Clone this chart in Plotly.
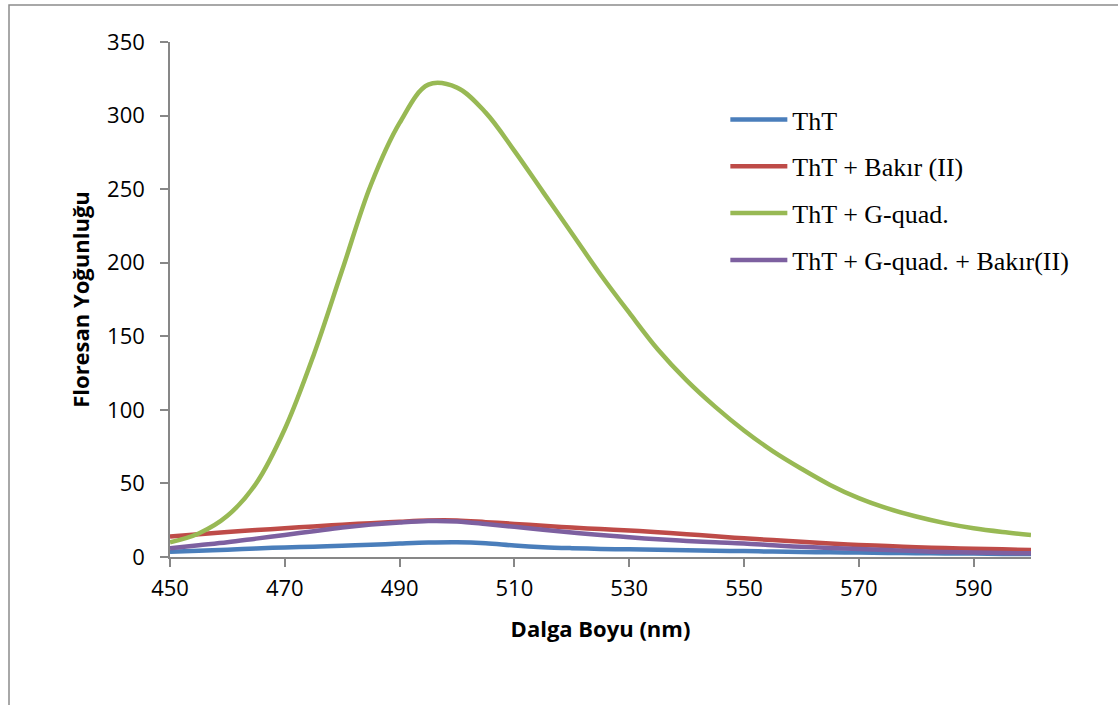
import plotly.graph_objects as go

wavelength = [450, 455, 460, 465, 470, 475, 480, 485, 490, 495, 500, 505, 510, 515,
              520, 525, 530, 535, 540, 545, 550, 555, 560, 565, 570, 575, 580, 585,
              590, 595, 600]

tht = [3.5, 4.2, 5.0, 5.8, 6.5, 7.0, 7.6, 8.3, 9.1, 9.8, 10.0, 9.3, 7.8, 6.7,
       6.0, 5.5, 5.2, 4.9, 4.6, 4.3, 4.0, 3.7, 3.4, 3.2, 3.0, 2.8, 2.6, 2.4,
       2.3, 2.1, 2.0]

tht_cu = [14.0, 15.5, 17.0, 18.3, 19.5, 20.8, 22.0, 23.0, 24.0, 24.8, 24.8, 23.7, 22.5, 21.2,
          20.0, 19.0, 18.0, 16.8, 15.5, 14.1, 12.7, 11.5, 10.3, 9.2, 8.2, 7.4, 6.7, 6.1,
          5.6, 5.2, 4.8]

tht_gq = [10, 16, 28, 50, 87, 137, 195, 253, 295, 321, 319, 302, 276, 248,
          220, 192, 166, 141, 120, 102, 86, 72, 60, 49, 40, 33, 27.5, 23,
          19.5, 17, 15]

tht_gq_cu = [6.0, 8.0, 10.0, 12.5, 15.0, 17.5, 20.0, 22.0, 23.5, 24.5, 24.2, 22.5, 20.5, 18.5,
             16.6, 15.0, 13.4, 12.0, 10.9, 10.0, 9.2, 8.0, 6.9, 6.1, 5.4, 4.7, 4.0, 3.4,
             3.0, 2.7, 2.5]

names = ["ThT", "ThT + Bakır (II)", "ThT + G-quad.", "ThT + G-quad. + Bakır(II)"]
series = [tht, tht_cu, tht_gq, tht_gq_cu]
colors = ["#4a7ebb", "#be4b48", "#98b954", "#7d60a0"]

x_ticks = [450, 470, 490, 510, 530, 550, 570, 590]
y_ticks = [0, 50, 100, 150, 200, 250, 300, 350]

fig = go.Figure()
for i, (nm, ys, c) in enumerate(zip(names, series, colors)):
    fig.add_trace(go.Scatter(
        x=wavelength, y=ys, name=nm, mode="lines",
        line=dict(color=c, width=4.5, shape="spline", smoothing=1.0),
        legendgroup=f"g{i}",
    ))

sans = "Open Sans, Liberation Sans, sans-serif"
axis_font = dict(family=sans, size=22, color="#000000")
title_font = dict(family=sans, size=22, color="#000000")

fig.update_layout(
    width=1118, height=705,
    margin=dict(l=170, r=87, t=42, b=148),
    paper_bgcolor="white", plot_bgcolor="white",
    showlegend=True,
    legend=dict(
        x=0.645, y=0.895, xanchor="left", yanchor="top",
        font=dict(family="Liberation Serif, Times New Roman, serif", size=26, color="#000000"),
        tracegroupgap=10, itemwidth=57, bgcolor="rgba(0,0,0,0)",
    ),
    xaxis=dict(
        range=[450, 600], tickvals=x_ticks, ticktext=[str(v) for v in x_ticks],
        showgrid=False, zeroline=False, showline=True, linecolor="#878787", linewidth=1.5,
        ticks="outside", ticklen=8, tickcolor="#878787", tickwidth=1.5,
        tickfont=axis_font, ticklabelstandoff=3,
        title=dict(text="<b>Dalga Boyu (nm)</b>", standoff=20, font=title_font),
    ),
    yaxis=dict(
        range=[0, 350], tickvals=y_ticks, ticktext=[str(v) for v in y_ticks],
        showgrid=False, zeroline=False, showline=True, linecolor="#878787", linewidth=1.5,
        ticks="outside", ticklen=8, tickcolor="#878787", tickwidth=1.5,
        tickfont=axis_font, ticklabelstandoff=11,
        title=dict(text="<b>Floresan Yoğunluğu</b>", standoff=11, font=title_font),
    ),
    shapes=[dict(type="rect", xref="paper", yref="paper",
                 x0=(9 - 170) / 861, x1=(1130 - 170) / 861,
                 y0=(557 - 720) / 515, y1=(557 - 5) / 515,
                 line=dict(color="#8c8c8c", width=1.5), fillcolor="rgba(0,0,0,0)", layer="below")],
)

fig.write_html("out.html", config={"displayModeBar": False},
               post_script="document.body.style.margin='0';")
